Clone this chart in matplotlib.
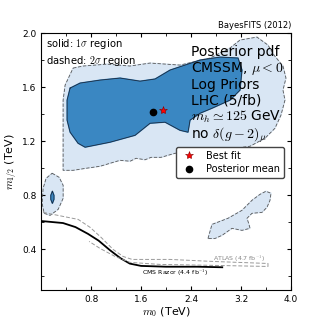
import numpy as np
import matplotlib.pyplot as plt

plt.rcParams['mathtext.fontset'] = 'cm'

# 2 sigma region (main blob), m0 and m1/2 in TeV
outer_m0 = [0.512, 0.672, 1.056, 1.424, 1.744, 2.224, 2.704, 3.024, 3.184, 3.456, 3.632, 3.728,
            3.872, 3.92, 3.872, 3.904, 3.84, 3.744, 3.584, 3.344, 2.864, 2.384, 2.144, 1.92,
            1.76, 1.664, 1.52, 1.424, 1.264, 1.104, 0.944, 0.72, 0.512, 0.352, 0.352, 0.352, 0.384]
outer_m12 = [1.741, 1.756, 1.770, 1.756, 1.778, 1.763, 1.815, 1.889, 1.948, 1.970, 1.911, 1.837,
             1.756, 1.667, 1.578, 1.504, 1.393, 1.296, 1.222, 1.163, 1.133, 1.119, 1.111, 1.081,
             1.081, 1.063, 1.074, 1.052, 1.059, 1.037, 1.015, 1.000, 0.985, 0.985, 1.281, 1.504, 1.615]

# 1 sigma region (main blob)
inner_m0 = [0.464, 0.624, 0.944, 1.264, 1.584, 1.824, 2.064, 2.304, 2.544, 2.864, 3.152, 3.216,
            3.184, 3.024, 2.736, 2.544, 2.384, 2.352, 2.224, 1.984, 1.744, 1.504, 1.104, 0.704,
            0.592, 0.464, 0.416, 0.416]
inner_m12 = [1.593, 1.630, 1.652, 1.667, 1.644, 1.660, 1.726, 1.763, 1.800, 1.822, 1.815, 1.726,
             1.578, 1.504, 1.444, 1.407, 1.356, 1.267, 1.281, 1.341, 1.333, 1.244, 1.193, 1.156,
             1.185, 1.267, 1.356, 1.504]

# small island at low m0
island_m0 = [0.176, 0.288, 0.352, 0.352, 0.272, 0.144, 0.048, 0.016, 0.032, 0.08]
island_m12 = [0.963, 0.933, 0.874, 0.778, 0.696, 0.652, 0.667, 0.741, 0.852, 0.926]
core_m0 = [0.18, 0.205, 0.205, 0.18, 0.155, 0.155]
core_m12 = [0.83, 0.80, 0.77, 0.74, 0.77, 0.80]

# island at high m0
right_m0 = [2.672, 2.736, 2.992, 3.216, 3.376, 3.504, 3.6, 3.68, 3.664, 3.616, 3.536, 3.376,
            3.296, 3.328, 3.344, 3.216, 3.056, 2.896, 2.784]
right_m12 = [0.481, 0.585, 0.630, 0.689, 0.763, 0.807, 0.830, 0.815, 0.763, 0.711, 0.674, 0.667,
             0.630, 0.585, 0.556, 0.541, 0.556, 0.504, 0.481]

# exclusion limits
cms_m0 = [0.0, 0.35, 0.55, 0.75, 0.92, 1.1, 1.27, 1.42, 1.6, 2.0, 2.5, 2.9]
cms_m12 = [0.610, 0.595, 0.565, 0.515, 0.465, 0.395, 0.335, 0.295, 0.278, 0.272, 0.272, 0.268]
atlas_m0 = [0.032, 0.352, 0.592, 0.784, 0.96, 1.152, 1.312, 1.456, 2.064, 2.752, 3.632,
            3.632, 2.864, 1.904, 1.424, 1.184, 0.944, 0.768]
atlas_m12 = [0.674, 0.644, 0.622, 0.563, 0.489, 0.400, 0.348, 0.326, 0.326, 0.311, 0.296,
             0.274, 0.281, 0.289, 0.304, 0.348, 0.407, 0.459]

best_fit = (1.95, 1.43)
post_mean = (1.79, 1.415)

light = '#d9e6f4'
dark = '#3a87c2'

fig = plt.figure(figsize=(3.24, 3.24), dpi=100)
ax = fig.add_axes([0.127, 0.105, 0.771, 0.793])

for xs, ys in [(outer_m0, outer_m12), (island_m0, island_m12), (right_m0, right_m12)]:
    ax.fill(xs, ys, color=light, zorder=1)
    ax.plot(xs + xs[:1], ys + ys[:1], color='#555555', ls='--', lw=0.6, dashes=(4, 2), zorder=3)
for xs, ys in [(inner_m0, inner_m12), (core_m0, core_m12)]:
    ax.fill(xs, ys, color=dark, zorder=2)
    ax.plot(xs + xs[:1], ys + ys[:1], color='#1a2a40', lw=0.6, zorder=3)

ax.plot(cms_m0, cms_m12, color='black', lw=1.3, zorder=4)
ax.plot(atlas_m0, atlas_m12, color='#999999', ls='--', lw=0.7, dashes=(4, 2), zorder=4)
ax.text(2.14, 0.23, r'CMS Razor (4.4 fb$^{-1}$)', fontsize=4.5, ha='center', va='center')
ax.text(3.17, 0.335, r'ATLAS (4.7 fb$^{-1}$)', fontsize=4.5, ha='center', va='center', color='#888888')

ax.plot(*best_fit, marker='*', color='red', mec='#800000', mew=0.4, ms=6, ls='none',
        label='Best fit', zorder=5)
ax.plot(*post_mean, marker='o', color='black', ms=4.5, ls='none', label='Posterior mean', zorder=5)

ax.text(0.6, 0.955, 'Posterior pdf\nCMSSM, $\\mu<0$\nLog Priors\nLHC (5/fb)\n'
        '$m_h\\simeq125$ GeV\nno $\\delta(g-2)_\\mu$',
        transform=ax.transAxes, fontsize=10, va='top', ha='left', linespacing=1.1, zorder=6)
ax.text(0.02, 0.985, 'solid: $1\\sigma$ region\ndashed: $2\\sigma$ region',
        transform=ax.transAxes, fontsize=7.2, va='top', ha='left', linespacing=1.3)
ax.text(1.0, 1.012, 'BayesFITS (2012)', transform=ax.transAxes, fontsize=6, ha='right', va='bottom')

leg = ax.legend(loc='upper right', bbox_to_anchor=(0.99, 0.575), fontsize=7, numpoints=1,
                handletextpad=0.8, borderpad=0.35, labelspacing=0.4, framealpha=1,
                edgecolor='#444444')
leg.set_zorder(7)

ax.set_xlim(0, 4.0)
ax.set_ylim(0.1, 2.0)
ax.set_xticks([0.8, 1.6, 2.4, 3.2, 4.0])
ax.set_xticks(np.arange(0.4, 4.0, 0.4), minor=True)
ax.set_yticks([0.4, 0.8, 1.2, 1.6, 2.0])
ax.set_yticks(np.arange(0.2, 2.0, 0.2), minor=True)
ax.tick_params(which='both', direction='in', top=True, right=True, labelsize=6.5)
ax.tick_params(which='major', length=3)
ax.tick_params(which='minor', length=2)
ax.set_xlabel('$m_0$ (TeV)', fontsize=8, labelpad=1)
ax.set_ylabel('$m_{1/2}$ (TeV)', fontsize=8, labelpad=2)

plt.savefig('out.png', dpi=100)
